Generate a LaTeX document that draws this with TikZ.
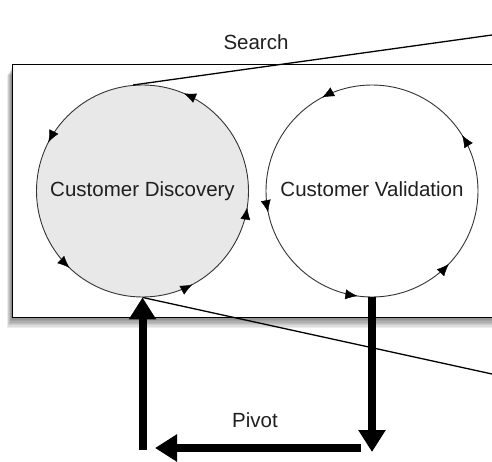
\documentclass[tikz,border=0pt]{standalone}
\usepackage{fontspec}
\setmainfont{Liberation Sans}
\usetikzlibrary{arrows.meta,decorations.markings}
\begin{document}
\begin{tikzpicture}[x=1pt,y=1pt,
  lbl/.style={font=\fontsize{20.5}{24}\selectfont, text=black!88},
  loopc/.style={circle, draw=black!80, line width=0.9pt, minimum size=212pt, inner sep=0pt, text height=15pt, text depth=4pt},
  fat/.style={line width=8pt, -{Triangle[length=22pt,width=26pt]}},
  thinline/.style={line width=1.3pt}
]
\clip (0,0) rectangle (492,461);
\fill[white] (0,0) rectangle (492,461);
% shadow of the box
\foreach \i in {1,...,8}
  \fill[black, opacity=0.07] (12-0.6*\i,144-1.4*\i) rectangle (520,394-\i);
\draw[fill=white, line width=1pt] (12,144) rectangle (520,396);
% loops
\node[loopc, fill=black!9, lbl] (disc) at (142.5,270) {Customer Discovery};
\node[loopc, lbl] (valid) at (372,270) {Customer Validation};
\path[decoration={markings,
  mark=at position 0.186 with {\arrow{Latex[length=12pt,width=10pt]}},
  mark=at position 0.424 with {\arrow{Latex[length=12pt,width=10pt]}},
  mark=at position 0.629 with {\arrow{Latex[length=12pt,width=10pt]}},
  mark=at position 0.828 with {\arrow{Latex[length=12pt,width=10pt]}},
  mark=at position 0.975 with {\arrow{Latex[length=12pt,width=10pt]}}}, decorate]
  (disc.center) circle[radius=106pt];
\path[decoration={markings,
  mark=at position 0.088 with {\arrow{Latex[length=12pt,width=10pt]}},
  mark=at position 0.328 with {\arrow{Latex[length=12pt,width=10pt]}},
  mark=at position 0.532 with {\arrow{Latex[length=12pt,width=10pt]}},
  mark=at position 0.728 with {\arrow{Latex[length=12pt,width=10pt]}},
  mark=at position 0.879 with {\arrow{Latex[length=12pt,width=10pt]}}}, decorate]
  (valid.center) circle[radius=106pt];
% labels
\node[lbl] (search) at (256,419) {Search};
\node[lbl] (pivot) at (255,41) {Pivot};
% zoom lines
\coordinate (tr) at (492,426);
\coordinate (br) at (492,87);
\draw[thinline] (disc.95) -- (tr);
\draw[thinline] (disc.south) -- (br);
% pivot arrows
\coordinate (ub) at (142.5,11);
\coordinate (db) at (372,9);
\coordinate (ls) at (361,13);
\coordinate (le) at (155,13);
\draw[fat] (ub) -- (disc.south);
\draw[fat] (valid.south) -- (db);
\draw[fat] (ls) -- (le);
\end{tikzpicture}
\end{document}
